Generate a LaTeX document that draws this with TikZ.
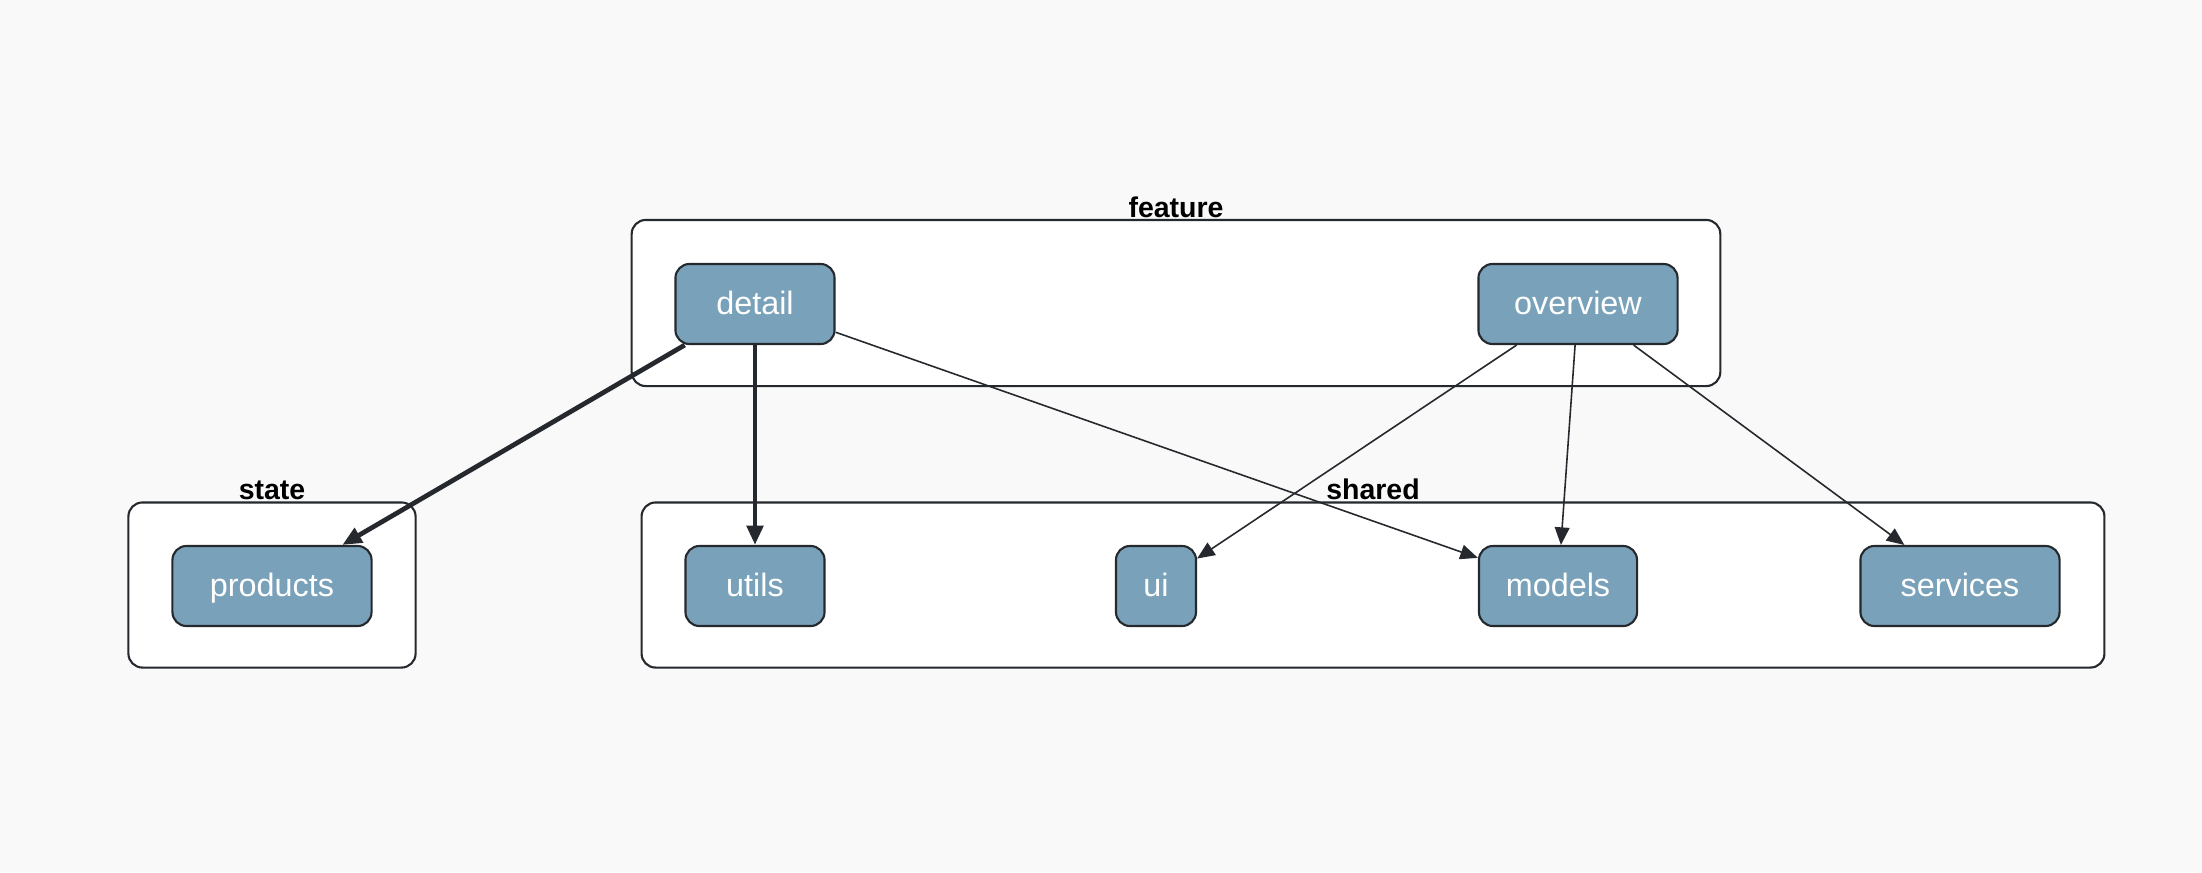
\documentclass[tikz,border=0pt]{standalone}
\usepackage{fontspec}
\setmainfont{Liberation Sans}
\usepackage{tikz}
\usetikzlibrary{arrows.meta, positioning}
\definecolor{bgcol}{HTML}{F9F9F9}
\definecolor{modfill}{HTML}{79A2BA}
\definecolor{edgecol}{HTML}{25282D}

\begin{document}
\begin{tikzpicture}[x=0.01cm, y=-0.01cm,
    group/.style={draw=edgecol, fill=white, rounded corners=0.14cm, line width=0.6pt, inner sep=0pt},
    grouplabel/.style={inner sep=0pt, font=\bfseries\fontsize{8.1}{10}\selectfont},
    module/.style={draw=edgecol, fill=modfill, text=white, rounded corners=0.14cm, line width=0.6pt,
        minimum height=0.8cm, inner sep=0pt, text height=0.72em, text depth=0.1em,
        font=\fontsize{9.2}{11}\selectfont},
    dep/.style={-{Triangle[length=5pt,width=4.2pt]}, draw=edgecol, line width=0.45pt},
    strongdep/.style={-{Triangle[length=5.5pt,width=4.6pt]}, draw=edgecol, line width=1.35pt}]
    % 背景
    \fill[bgcol] (0,0) rectangle (2202,872);
    \useasboundingbox (0,0) rectangle (2202,872);

    % グループ
    \node[group, minimum width=10.88cm, minimum height=1.66cm] (feature) at (1176,303) {};
    \node[grouplabel, above=0.2pt of feature.north] (featurelabel) {feature};
    \node[group, minimum width=2.87cm, minimum height=1.65cm] (state) at (272,585) {};
    \node[grouplabel, above=0.2pt of state.north] (statelabel) {state};
    \node[group, minimum width=14.62cm, minimum height=1.65cm] (shared) at (1373,585) {};
    \node[grouplabel, above=0.2pt of shared.north] (sharedlabel) {shared};

    % モジュール
    \node[module, minimum width=1.59cm] (detail) at (755,304) {detail};
    \node[module, minimum width=1.99cm] (overview) at (1578,304) {overview};
    \node[module, minimum width=1.99cm] (products) at (272,586) {products};
    \node[module, minimum width=1.39cm] (utils) at (755,586) {utils};
    \node[module, minimum width=0.80cm] (ui) at (1156,586) {ui};
    \node[module, minimum width=1.58cm] (models) at (1558,586) {models};
    \node[module, minimum width=1.99cm] (services) at (1960,586) {services};

    % 依存関係
    \draw[strongdep] (detail) -- (products);
    \draw[strongdep] (detail) -- (utils);
    \draw[dep] (detail) -- (models);
    \draw[dep] (overview) -- (ui);
    \draw[dep] (overview) -- (models);
    \draw[dep] (overview) -- (services);
\end{tikzpicture}
\end{document}
